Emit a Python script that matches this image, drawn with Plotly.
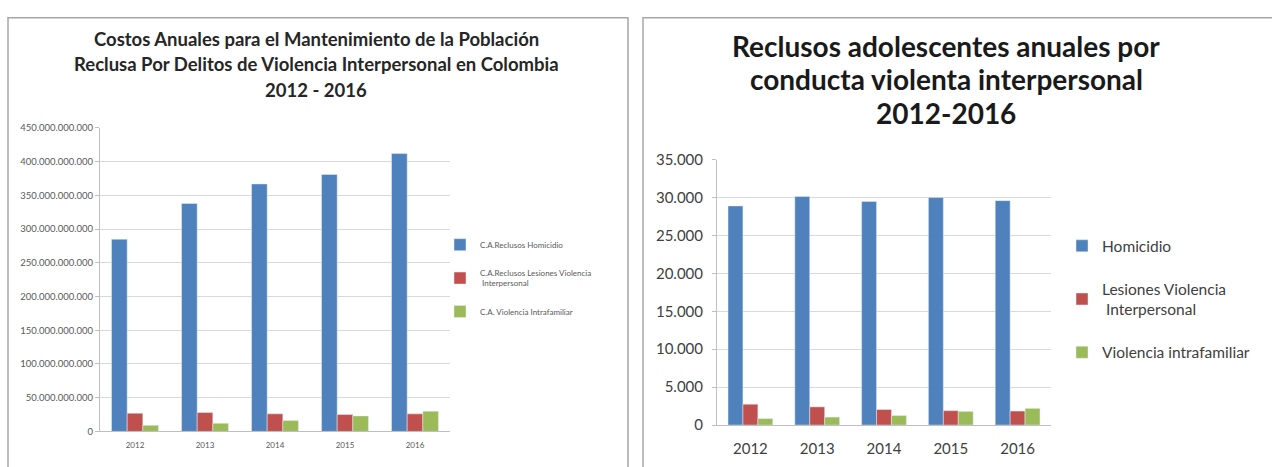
import plotly.graph_objects as go

W, H = 1272, 467

years = ["2012", "2013", "2014", "2015", "2016"]

# Left chart: annual costs (COP)
cost_homicidio = [285e9, 338e9, 367e9, 381e9, 412e9]
cost_lesiones = [27e9, 28e9, 26e9, 25e9, 26e9]
cost_intrafamiliar = [9e9, 12e9, 16e9, 23e9, 30e9]
cost_names = ["C.A.Reclusos Homicidio",
              "C.A.Reclusos Lesiones Violencia<br> Interpersonal",
              "C.A. Violencia Intrafamiliar"]

# Right chart: adolescent inmates
adol_homicidio = [28900, 30150, 29500, 30000, 29600]
adol_lesiones = [2750, 2400, 2050, 1900, 1850]
adol_intrafamiliar = [850, 1050, 1250, 1800, 2200]
adol_names = ["Homicidio", "Lesiones Violencia<br> Interpersonal", "Violencia intrafamiliar"]

colors = ["#4F81BD", "#C0504D", "#9BBB59"]

FONT = "Lato"

def px(x):
    return x / W

def py(y):
    return 1 - y / H

fig = go.Figure()

for i, (vals, name) in enumerate(zip([cost_homicidio, cost_lesiones, cost_intrafamiliar], cost_names)):
    fig.add_trace(go.Bar(x=years, y=vals, name=name, marker_color=colors[i],
                         xaxis="x", yaxis="y", legend="legend", legendgroup="a%d" % i))

for i, (vals, name) in enumerate(zip([adol_homicidio, adol_lesiones, adol_intrafamiliar], adol_names)):
    fig.add_trace(go.Bar(x=years, y=vals, name=name, marker_color=colors[i],
                         xaxis="x2", yaxis="y2", legend="legend2", legendgroup="b%d" % i))

grid = "#D9D9D9"
axis_line = "#BFBFBF"

fig.update_layout(
    width=W, height=H,
    margin=dict(l=0, r=0, t=0, b=0),
    paper_bgcolor="white", plot_bgcolor="white",
    separators=",.",
    barmode="group", bargap=0.33, bargroupgap=0,
    font=dict(family=FONT, color="#404040"),
    xaxis=dict(domain=[px(100), px(450)], anchor="y", showline=True, linecolor=axis_line,
               ticks="", tickfont=dict(size=8, color="#595959"), showgrid=False,
               ticklabelstandoff=6),
    yaxis=dict(domain=[py(438.3), py(122.7)], anchor="x", range=[0, 450e9], dtick=50e9,
               tickformat=",.0f", showline=True, linecolor=axis_line, gridcolor=grid,
               tickfont=dict(size=9.5, color="#595959"), ticks="outside", ticklen=4,
               tickcolor=axis_line, zeroline=False),
    xaxis2=dict(domain=[px(717), px(1051)], anchor="y2", showline=True, linecolor=axis_line,
                ticks="", tickfont=dict(size=15, color="#404040"), showgrid=False,
                ticklabelstandoff=10),
    yaxis2=dict(domain=[py(431.7), py(155.7)], anchor="x2", range=[0, 35000], dtick=5000,
                tickformat=",.0f", showline=True, linecolor=axis_line, gridcolor=grid,
                tickfont=dict(size=15, color="#404040"), ticks="outside", ticklen=4,
                tickcolor=axis_line, zeroline=False, ticklabelstandoff=6),
    legend=dict(x=px(440), y=py(229), xanchor="left", yanchor="top",
                font=dict(size=8, color="#595959", family=FONT),
                traceorder="grouped", tracegroupgap=12, itemwidth=30,
                bgcolor="rgba(0,0,0,0)"),
    legend2=dict(x=px(1062), y=py(228), xanchor="left", yanchor="top",
                 font=dict(size=15.5, color="#404040", family=FONT),
                 traceorder="grouped", tracegroupgap=20, itemwidth=30,
                 bgcolor="rgba(0,0,0,0)"),
)

# Panel borders
border = dict(color="#A6A6A6", width=1.5)
fig.add_shape(type="rect", xref="paper", yref="paper", x0=px(8), x1=px(628), y0=-0.05, y1=py(8),
              line=border, fillcolor="rgba(0,0,0,0)", layer="below")
fig.add_shape(type="rect", xref="paper", yref="paper", x0=px(643), x1=px(1290), y0=-0.05, y1=py(8),
              line=border, fillcolor="rgba(0,0,0,0)", layer="below")

# Titles
left_title = ["Costos Anuales para el Mantenimiento de la Población",
              "Reclusa Por Delitos de Violencia Interpersonal en Colombia",
              "2012 - 2016"]
for text, y in zip(left_title, [30, 56, 83]):
    fig.add_annotation(text="<b>" + text + "</b>", xref="paper", yref="paper", x=px(316), y=py(y),
                       xanchor="center", yanchor="middle", showarrow=False,
                       font=dict(size=18.5, color="#262626", family=FONT))

right_title = ["Reclusos adolescentes anuales por",
               "conducta violenta interpersonal",
               "2012-2016"]
for text, y in zip(right_title, [37, 72, 107]):
    fig.add_annotation(text="<b>" + text + "</b>", xref="paper", yref="paper", x=px(946), y=py(y),
                       xanchor="center", yanchor="middle", showarrow=False,
                       font=dict(size=28, color="#1a1a1a", family=FONT))

fig.write_html("out.html")
